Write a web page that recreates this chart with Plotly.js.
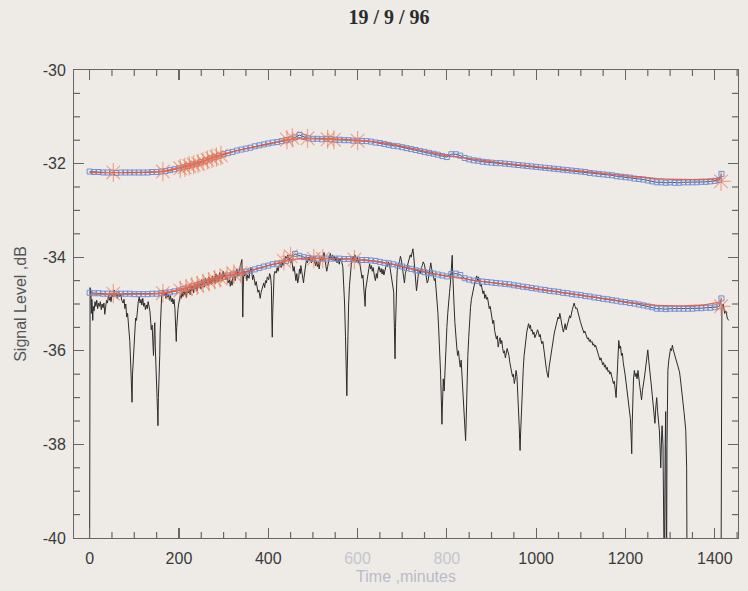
<!DOCTYPE html>
<html>
<head>
<meta charset="utf-8">
<script src="https://cdn.plot.ly/plotly-3.0.1.min.js"></script>
<style>
  html, body { margin: 0; padding: 0; background: #eeebe7; }
  #chart { width: 748px; height: 591px; }
</style>
</head>
<body>
<div id="chart"></div>
<script>
// ---------------- DATA ----------------
const chartTitle = "19 / 9 / 96";
const xTitle = "Time ,minutes";
const yTitle = "Signal Level ,dB";

// sampled squares: start time and step (minutes)
const squareStartMin = 0;
const squareStepMin = 10;

// upper curve, blue squares (one per sample)
const upperSquares = [
  -32.17,-32.18,-32.18,-32.19,-32.19,-32.19,-32.20,-32.19,-32.19,-32.19,
  -32.19,-32.19,-32.19,-32.19,-32.18,-32.18,-32.17,-32.16,-32.14,-32.12,
  -32.10,-32.08,-32.05,-32.02,-32.00,-31.97,-31.93,-31.89,-31.86,-31.83,
  -31.80,-31.77,-31.75,-31.72,-31.70,-31.68,-31.66,-31.63,-31.61,-31.59,
  -31.57,-31.55,-31.54,-31.52,-31.50,-31.48,-31.44,-31.39,-31.43,-31.46,
  -31.47,-31.47,-31.48,-31.47,-31.48,-31.49,-31.49,-31.50,-31.50,-31.51,
  -31.51,-31.52,-31.52,-31.53,-31.55,-31.56,-31.58,-31.60,-31.62,-31.63,
  -31.65,-31.67,-31.69,-31.71,-31.73,-31.75,-31.77,-31.79,-31.81,-31.84,
  -31.86,-31.80,-31.80,-31.83,-31.88,-31.91,-31.93,-31.94,-31.96,-31.97,
  -31.98,-31.99,-31.99,-32.00,-32.01,-32.02,-32.03,-32.04,-32.05,-32.06,
  -32.07,-32.08,-32.09,-32.10,-32.11,-32.12,-32.13,-32.14,-32.15,-32.16,
  -32.17,-32.18,-32.20,-32.21,-32.22,-32.23,-32.24,-32.25,-32.27,-32.28,
  -32.29,-32.30,-32.32,-32.33,-32.34,-32.36,-32.38,-32.40,-32.40,-32.41,
  -32.40,-32.41,-32.41,-32.40,-32.40,-32.40,-32.40,-32.39,-32.39,-32.38,
  -32.37,-32.35
];
// lower curve, blue squares
const lowerSquares = [
  -34.76,-34.77,-34.77,-34.78,-34.78,-34.78,-34.79,-34.78,-34.78,-34.78,
  -34.79,-34.79,-34.79,-34.79,-34.78,-34.78,-34.77,-34.76,-34.75,-34.73,
  -34.71,-34.68,-34.65,-34.62,-34.60,-34.57,-34.54,-34.51,-34.48,-34.45,
  -34.42,-34.39,-34.37,-34.35,-34.33,-34.31,-34.29,-34.26,-34.23,-34.20,
  -34.18,-34.15,-34.14,-34.12,-34.08,-34.02,-33.93,-33.97,-34.00,-34.02,
  -34.03,-34.03,-34.03,-34.03,-34.03,-34.03,-34.03,-34.04,-34.04,-34.05,
  -34.05,-34.06,-34.06,-34.07,-34.08,-34.10,-34.12,-34.13,-34.15,-34.18,
  -34.20,-34.23,-34.25,-34.28,-34.30,-34.32,-34.34,-34.35,-34.37,-34.39,
  -34.41,-34.36,-34.35,-34.38,-34.45,-34.48,-34.50,-34.51,-34.52,-34.53,
  -34.54,-34.55,-34.56,-34.57,-34.58,-34.60,-34.61,-34.63,-34.64,-34.66,
  -34.67,-34.69,-34.70,-34.72,-34.73,-34.74,-34.76,-34.77,-34.79,-34.80,
  -34.81,-34.83,-34.84,-34.86,-34.87,-34.89,-34.90,-34.92,-34.93,-34.95,
  -34.96,-34.98,-34.99,-35.01,-35.03,-35.05,-35.07,-35.10,-35.10,-35.11,
  -35.10,-35.10,-35.10,-35.10,-35.10,-35.10,-35.09,-35.09,-35.08,-35.08,
  -35.07,-35.05
];
// last, offset square at the end of each curve
const endSquareX = [1415];
const endSquareUpper = [-32.22];
const endSquareLower = [-34.88];

// smooth fitted (red) curves
const fitX = [0,100,160,200,250,300,355,405,455,505,560,610,660,710,760,810,865,915,965,1015,1070,1120,1170,1220,1270,1320,1375,1415];
const fitUpper = [-32.19,-32.19,-32.17,-32.10,-31.96,-31.80,-31.67,-31.57,-31.48,-31.46,-31.48,-31.51,-31.56,-31.65,-31.75,-31.84,-31.91,-31.98,-32.03,-32.08,-32.13,-32.18,-32.23,-32.28,-32.32,-32.34,-32.34,-32.32];
const fitLower = [-34.79,-34.79,-34.77,-34.70,-34.56,-34.42,-34.30,-34.17,-34.05,-34.02,-34.03,-34.06,-34.12,-34.22,-34.33,-34.42,-34.50,-34.56,-34.63,-34.70,-34.77,-34.84,-34.91,-34.98,-35.03,-35.04,-35.02,-34.95];

// asterisk markers
const starUpperX = [53,164,203,213,223,233,243,254,264,274,284,294,442,454,488,533,547,600,1414];
const starUpperY = [-32.19,-32.17,-32.10,-32.08,-32.05,-32.02,-32.00,-31.96,-31.92,-31.89,-31.86,-31.83,-31.49,-31.45,-31.46,-31.48,-31.49,-31.51,-32.38];
const starLowerX = [53,164,203,216,229,241,254,267,280,292,308,323,338,435,450,502,522,593,1414];
const starLowerY = [-34.78,-34.77,-34.71,-34.67,-34.63,-34.60,-34.56,-34.52,-34.48,-34.44,-34.40,-34.36,-34.34,-34.08,-33.98,-34.03,-34.03,-34.05,-35.05];

// raw received signal (black trace): [minutes, dB]
const signal = [
  [0,-40.5],[1,-34.65],[3,-34.8],[4,-35.2],[5,-34.9],[7,-35.35],[8,-35.05],[10,-35.15],[12,-34.95],[14,-35.05],
  [16,-34.92],[18,-35.1],[20,-34.98],[22,-35.05],[24,-34.95],[26,-35.12],[28,-35.0],[30,-35.08],[32,-34.98],[34,-35.22],
  [36,-35.05],[38,-34.92],[40,-34.98],[42,-34.82],[44,-34.92],[46,-34.85],[48,-34.95],[50,-34.78],[52,-34.85],[55,-34.7],
  [57,-34.82],[60,-34.76],[62,-34.88],[65,-34.72],[67,-34.85],[70,-34.8],[72,-34.92],[75,-34.98],[77,-34.9],[79,-35.1],
  [81,-35.0],[83,-35.28],[85,-35.2],[87,-35.45],[89,-35.6],[90,-35.8],[92,-36.3],[93,-36.7],[94,-36.6],[95,-37.1],
  [96,-36.5],[97,-36.3],[98,-36.0],[100,-35.9],[101,-35.6],[103,-35.3],[105,-35.35],[107,-35.1],[109,-34.95],[111,-34.85],
  [113,-34.98],[115,-34.9],[117,-35.02],[119,-34.88],[121,-35.05],[123,-34.98],[125,-35.12],[127,-35.02],[129,-35.1],[131,-34.95],
  [133,-35.08],[135,-35.15],[137,-35.4],[138,-35.55],[140,-35.45],[141,-35.8],[142,-36.0],[143,-36.1],[145,-35.5],[146,-35.4],
  [147,-35.9],[149,-36.3],[150,-36.6],[151,-37.0],[152,-37.3],[153,-37.6],[154,-37.0],[155,-36.8],[156,-36.3],[157,-36.1],
  [158,-35.6],[159,-35.25],[161,-34.88],[163,-34.75],[165,-34.7],[167,-34.82],[169,-34.76],[171,-34.88],[173,-34.74],[175,-34.85],
  [177,-34.8],[179,-34.92],[181,-34.82],[183,-34.95],[185,-34.88],[187,-35.0],[189,-34.9],[191,-35.1],[192,-35.35],[193,-35.6],
  [194,-35.8],[195,-35.5],[196,-35.25],[198,-35.1],[199,-35.02],[201,-34.9],[203,-34.82],[205,-34.88],[207,-34.76],[209,-34.84],
  [211,-34.7],[213,-34.8],[215,-34.74],[217,-34.86],[219,-34.66],[221,-34.76],[223,-34.68],[225,-34.8],[227,-34.6],[229,-34.72],
  [231,-34.64],[233,-34.76],[235,-34.56],[237,-34.68],[239,-34.6],[241,-34.72],[243,-34.52],[245,-34.64],[247,-34.56],[249,-34.68],
  [251,-34.48],[253,-34.6],[255,-34.52],[257,-34.64],[259,-34.45],[261,-34.56],[263,-34.48],[265,-34.6],[267,-34.42],[269,-34.55],
  [271,-34.46],[273,-34.58],[275,-34.4],[277,-34.52],[279,-34.44],[281,-34.56],[283,-34.36],[285,-34.5],[287,-34.4],[289,-34.52],
  [291,-34.33],[293,-34.46],[295,-34.38],[297,-34.5],[299,-34.3],[301,-34.42],[303,-34.36],[305,-34.48],[308,-34.42],[310,-34.55],
  [313,-34.48],[315,-34.62],[317,-34.5],[319,-34.6],[321,-34.42],[324,-34.38],[326,-34.5],[328,-34.3],[330,-34.25],[332,-34.4],
  [335,-34.32],[337,-34.2],[339,-34.12],[341,-34.05],[342,-34.6],[343,-35.28],[344,-34.7],[345,-34.28],[347,-34.4],[349,-34.3],
  [350,-34.35],[352,-34.5],[354,-34.38],[357,-34.45],[359,-34.3],[361,-34.22],[363,-34.3],[365,-34.48],[367,-34.38],[369,-34.5],
  [371,-34.6],[373,-34.52],[375,-34.62],[377,-34.75],[379,-34.7],[382,-34.88],[384,-34.75],[386,-34.68],[388,-34.6],[390,-34.55],
  [392,-34.65],[394,-34.5],[396,-34.55],[398,-34.42],[401,-34.48],[403,-34.35],[405,-34.4],[407,-34.6],[408,-35.3],[409,-35.71],
  [410,-35.2],[411,-34.6],[413,-34.38],[415,-34.3],[418,-34.34],[420,-34.22],[422,-34.3],[424,-34.2],[427,-34.15],[429,-34.22],
  [431,-34.1],[433,-34.18],[435,-34.05],[437,-34.1],[439,-33.98],[442,-34.02],[444,-33.95],[446,-34.08],[448,-34.02],[450,-34.12],
  [452,-34.05],[454,-34.15],[456,-34.3],[458,-34.2],[460,-34.4],[462,-34.5],[464,-34.35],[466,-34.55],[468,-34.45],[470,-34.25],
  [472,-34.35],[473,-34.18],[475,-34.3],[477,-34.4],[479,-34.55],[480,-34.45],[482,-34.25],[484,-34.15],[486,-34.05],[488,-34.12],
  [490,-34.0],[492,-34.08],[494,-33.98],[497,-34.12],[499,-34.05],[502,-33.98],[504,-34.1],[506,-34.18],[508,-34.08],[510,-34.2],
  [512,-34.1],[514,-34.25],[516,-34.1],[519,-34.0],[521,-34.08],[523,-33.95],[525,-33.9],[527,-34.05],[529,-34.15],[531,-34.3],
  [533,-34.2],[535,-34.08],[537,-33.95],[539,-33.92],[541,-34.05],[544,-33.95],[546,-34.06],[548,-33.98],[550,-34.08],[552,-34.0],
  [554,-34.12],[557,-34.05],[559,-34.15],[561,-34.02],[563,-34.08],[565,-34.12],[567,-34.2],[569,-34.5],[571,-35.0],[573,-35.7],
  [575,-36.3],[576,-36.96],[577,-36.4],[578,-35.6],[580,-35.0],[582,-34.6],[584,-34.3],[586,-34.15],[588,-34.05],[590,-33.98],
  [592,-34.08],[594,-33.95],[596,-34.02],[598,-34.1],[600,-34.0],[602,-34.12],[604,-34.06],[606,-34.2],[608,-34.3],[610,-34.45],
  [612,-34.38],[614,-34.6],[616,-35.0],[617,-35.05],[618,-34.7],[620,-34.55],[622,-34.45],[624,-34.25],[627,-34.14],[629,-34.25],
  [631,-34.18],[633,-34.3],[635,-34.22],[638,-34.42],[640,-34.5],[642,-34.35],[644,-34.45],[646,-34.28],[648,-34.2],[651,-34.32],
  [653,-34.24],[655,-34.36],[657,-34.26],[659,-34.38],[661,-34.3],[663,-34.22],[665,-34.14],[667,-34.2],[669,-34.1],[672,-34.18],
  [674,-34.3],[677,-34.45],[679,-34.6],[681,-34.75],[682,-35.3],[683,-35.8],[684,-36.17],[685,-35.5],[686,-34.9],[688,-34.45],
  [689,-34.28],[691,-34.15],[694,-34.1],[696,-33.98],[698,-34.05],[700,-34.2],[702,-34.3],[704,-34.45],[705,-34.55],[707,-34.35],
  [709,-34.28],[711,-34.2],[713,-34.12],[715,-34.05],[718,-33.95],[720,-34.0],[722,-33.88],[724,-33.82],[726,-34.0],[728,-34.2],
  [730,-34.45],[732,-34.72],[734,-34.55],[736,-34.38],[739,-34.28],[741,-34.35],[743,-34.22],[745,-34.18],[747,-34.1],[750,-34.16],
  [752,-34.3],[754,-34.42],[756,-34.55],[758,-34.5],[760,-34.35],[762,-34.2],[764,-34.12],[766,-34.25],[768,-34.32],[770,-34.38],
  [772,-34.5],[774,-34.45],[776,-34.65],[778,-34.9],[780,-35.2],[782,-35.6],[784,-35.92],[786,-36.5],[788,-37.2],[789,-37.57],
  [790,-37.2],[792,-36.6],[794,-36.86],[796,-36.3],[798,-35.8],[800,-35.5],[802,-35.2],[804,-34.9],[806,-34.75],[808,-34.55],
  [810,-34.3],[811,-34.05],[812,-33.96],[813,-34.3],[814,-34.7],[816,-35.0],[818,-35.4],[820,-35.78],[822,-35.9],[824,-36.1],
  [826,-36.0],[828,-36.2],[830,-36.35],[832,-36.2],[834,-36.55],[836,-36.78],[838,-37.1],[840,-37.64],[842,-37.92],[843,-37.6],
  [844,-37.0],[845,-36.6],[847,-36.1],[849,-35.71],[851,-35.3],[853,-35.07],[855,-34.9],[857,-34.78],[859,-34.68],[861,-34.6],
  [863,-34.52],[865,-34.45],[867,-34.4],[869,-34.5],[871,-34.42],[873,-34.55],[875,-34.62],[877,-34.58],[879,-34.7],[881,-34.78],
  [883,-34.72],[885,-34.88],[887,-34.8],[889,-34.9],[891,-34.86],[893,-34.98],[895,-35.1],[897,-35.05],[899,-35.25],[901,-35.3],
  [903,-35.42],[905,-35.35],[907,-35.57],[909,-35.65],[911,-35.75],[913,-35.68],[915,-35.92],[917,-35.8],[919,-35.72],[921,-35.85],
  [923,-35.78],[925,-35.95],[927,-36.05],[929,-36.0],[931,-36.15],[933,-36.05],[935,-35.95],[937,-36.02],[939,-36.1],[941,-36.25],
  [943,-36.35],[945,-36.45],[947,-36.55],[949,-36.5],[951,-36.7],[953,-36.6],[955,-36.42],[957,-36.55],[959,-36.9],[961,-37.3],
  [962,-37.6],[963,-37.9],[964,-38.13],[965,-37.8],[967,-37.2],[969,-36.7],[971,-36.4],[973,-36.1],[975,-35.9],[977,-35.75],
  [979,-35.6],[981,-35.5],[983,-35.42],[985,-35.52],[987,-35.45],[989,-35.58],[991,-35.55],[993,-35.65],[995,-35.6],[997,-35.72],
  [999,-35.68],[1001,-35.62],[1003,-35.55],[1005,-35.6],[1007,-35.7],[1009,-35.65],[1011,-35.78],[1013,-35.85],[1015,-35.8],[1017,-35.98],
  [1019,-36.1],[1021,-36.2],[1023,-36.4],[1025,-36.5],[1027,-36.57],[1029,-36.35],[1031,-36.2],[1033,-36.05],[1035,-35.95],[1037,-35.85],
  [1039,-35.72],[1041,-35.6],[1043,-35.5],[1045,-35.4],[1047,-35.35],[1049,-35.28],[1051,-35.32],[1053,-35.2],[1055,-35.3],[1057,-35.45],
  [1059,-35.52],[1061,-35.6],[1063,-35.5],[1065,-35.42],[1067,-35.55],[1069,-35.48],[1071,-35.4],[1073,-35.32],[1075,-35.25],[1077,-35.3],
  [1079,-35.18],[1081,-35.12],[1083,-35.05],[1085,-34.98],[1087,-35.05],[1089,-35.1],[1091,-35.08],[1093,-35.18],[1095,-35.25],[1097,-35.3],
  [1099,-35.38],[1101,-35.45],[1103,-35.5],[1105,-35.55],[1107,-35.62],[1109,-35.58],[1111,-35.65],[1113,-35.7],[1115,-35.75],[1117,-35.72],
  [1119,-35.8],[1121,-35.76],[1123,-35.82],[1125,-35.8],[1127,-35.88],[1129,-35.85],[1131,-35.92],[1133,-35.88],[1135,-35.95],[1137,-36.0],
  [1139,-36.05],[1141,-36.1],[1143,-36.2],[1145,-36.15],[1147,-36.25],[1149,-36.3],[1151,-36.25],[1153,-36.35],[1155,-36.3],[1157,-36.4],
  [1159,-36.35],[1161,-36.45],[1163,-36.42],[1165,-36.5],[1167,-36.45],[1169,-36.55],[1171,-36.6],[1173,-36.7],[1175,-36.65],[1177,-36.85],
  [1179,-37.0],[1181,-36.6],[1183,-36.2],[1185,-35.78],[1187,-35.95],[1189,-35.9],[1191,-36.1],[1193,-36.05],[1195,-36.25],[1197,-36.35],
  [1199,-36.5],[1201,-36.65],[1203,-36.8],[1205,-37.0],[1207,-37.15],[1209,-37.25],[1211,-37.45],[1213,-37.9],[1214,-38.2],[1215,-37.6],
  [1216,-37.0],[1218,-36.6],[1220,-36.42],[1222,-36.55],[1224,-36.48],[1226,-36.6],[1228,-36.42],[1230,-36.65],[1232,-36.75],[1234,-36.9],
  [1236,-37.05],[1238,-36.85],[1240,-36.75],[1242,-36.6],[1244,-36.45],[1246,-36.3],[1248,-36.1],[1250,-35.98],[1252,-36.2],[1254,-36.45],
  [1256,-36.6],[1258,-36.75],[1260,-36.95],[1262,-37.14],[1264,-37.4],[1266,-37.55],[1268,-37.2],[1270,-37.0],[1272,-37.3],[1274,-37.5],
  [1276,-37.71],[1278,-38.2],[1279,-38.5],[1281,-37.8],[1282,-37.6],[1284,-38.0],[1285,-38.5],[1286,-39.5],[1287,-41],[1289,-38.0],
  [1290,-37.3],[1291,-39.0],[1292,-41],[1293,-38.0],[1295,-36.42],[1297,-36.2],[1299,-36.05],[1301,-35.95],[1303,-36.0],[1305,-35.88],
  [1307,-35.98],[1309,-36.05],[1311,-36.1],[1313,-36.18],[1315,-36.25],[1317,-36.35],[1319,-36.38],[1321,-36.45],[1323,-36.6],[1325,-36.75],
  [1327,-36.95],[1329,-37.14],[1331,-37.3],[1333,-37.5],[1335,-37.7],[1337,-38.5],[1338,-41],[1345,-41],[1414,-41],[1416,-35.05],
  [1419,-35.0],[1422,-35.2],[1425,-35.15],[1428,-35.3],[1431,-35.35]
];

const xTickVals = [0,200,400,600,800,1000,1200,1400];
const xTickText = ["0","200","400",'<span style="color:#c4c6cc">600</span>','<span style="color:#c4c6cc">800</span>',"1000","1200","1400"];
const yTickVals = [-40,-38,-36,-34,-32,-30];
const yTickText = ["-40","-38","-36","-34","-32","-30"];
const xMinorTicks = [50,100,150,250,300,350,450,500,550,650,700,750,850,900,950,1050,1100,1150,1250,1300,1350,1450];
const yMinorTicks = [-39.5,-39,-38.5,-37.5,-37,-36.5,-35.5,-35,-34.5,-33.5,-33,-32.5,-31.5,-31,-30.5];
const xRange = [-35, 1452];
const yRange = [-40, -30];

// ---------------- BUILD ----------------
const squareX = upperSquares.map((_, i) => squareStartMin + i * squareStepMin);
const signalX = signal.map(p => p[0]);
const signalY = signal.map(p => p[1]);

const blue = '#6f8fd6';
const starColor = 'rgba(240,115,75,0.6)';
const fitColor = 'rgba(226,88,72,0.9)';
const frameColor = '#666';

const traces = [
  { x: signalX, y: signalY, mode: 'lines', line: { color: '#2b2b2b', width: 1 }, hoverinfo: 'skip' },
  { x: squareX.concat(endSquareX), y: lowerSquares.concat(endSquareLower), mode: 'lines+markers',
    line: { color: '#4b4f6a', width: 1 },
    marker: { symbol: 'square-open', size: 5, color: blue, line: { color: blue, width: 1 } } },
  { x: squareX.concat(endSquareX), y: upperSquares.concat(endSquareUpper), mode: 'lines+markers',
    line: { color: '#4b4f6a', width: 1 },
    marker: { symbol: 'square-open', size: 5, color: blue, line: { color: blue, width: 1 } } },
  { x: fitX, y: fitLower, mode: 'lines', line: { color: fitColor, width: 1.4, shape: 'spline' } },
  { x: fitX, y: fitUpper, mode: 'lines', line: { color: fitColor, width: 1.4, shape: 'spline' } },
  { x: starLowerX, y: starLowerY, mode: 'markers',
    marker: { symbol: 'asterisk-open', size: 16, color: starColor, line: { color: starColor, width: 1.2 } } },
  { x: starUpperX, y: starUpperY, mode: 'markers',
    marker: { symbol: 'asterisk-open', size: 16, color: starColor, line: { color: starColor, width: 1.2 } } }
];

// plot-area size in pixels (from margins) to express minor tick length in paper units
const W = 748, H = 591, M = { l: 74, r: 10, t: 70, b: 53 };
const plotW = W - M.l - M.r, plotH = H - M.t - M.b;
const minorLenPx = 6;
const fy = minorLenPx / plotH, fx = minorLenPx / plotW;
const tickLine = { color: frameColor, width: 1.2 };
const shapes = [];
xMinorTicks.forEach(v => {
  shapes.push({ type: 'line', layer: 'above', xref: 'x', yref: 'paper', x0: v, x1: v, y0: 0, y1: fy, line: tickLine });
  shapes.push({ type: 'line', layer: 'above', xref: 'x', yref: 'paper', x0: v, x1: v, y0: 1, y1: 1 - fy, line: tickLine });
});
yMinorTicks.forEach(v => {
  shapes.push({ type: 'line', layer: 'above', yref: 'y', xref: 'paper', y0: v, y1: v, x0: 0, x1: fx, line: tickLine });
  shapes.push({ type: 'line', layer: 'above', yref: 'y', xref: 'paper', y0: v, y1: v, x0: 1, x1: 1 - fx, line: tickLine });
});

const tickFont = { family: 'Liberation Sans, Arial, sans-serif', size: 16, color: '#3a3a3a' };
const axisCommon = {
  showline: true, linecolor: frameColor, linewidth: 1, mirror: 'ticks',
  ticks: 'inside', ticklen: 10, tickcolor: frameColor, tickwidth: 1.2,
  showgrid: false, zeroline: false, tickfont: tickFont
};

const layout = {
  width: W, height: H,
  paper_bgcolor: '#eeebe7', plot_bgcolor: '#eeebe7',
  margin: M,
  showlegend: false,
  shapes: shapes,
  title: { text: '<b>' + chartTitle + '</b>', xref: 'container', yref: 'container', x: 0.52, y: 0.971,
           xanchor: 'center', yanchor: 'middle',
           font: { family: 'Liberation Serif, Times New Roman, serif', size: 20, color: '#2b2b2b' } },
  xaxis: Object.assign({}, axisCommon, {
    range: xRange, tickmode: 'array', tickvals: xTickVals, ticktext: xTickText,
    ticklabelstandoff: 6,
    title: { text: xTitle, standoff: 4, font: { family: 'Liberation Sans, Arial, sans-serif', size: 16, color: '#b9bcc6' } }
  }),
  yaxis: Object.assign({}, axisCommon, {
    range: yRange, tickmode: 'array', tickvals: yTickVals, ticktext: yTickText,
    ticklabelstandoff: 4,
    title: { text: yTitle, standoff: 12, font: { family: 'Liberation Sans, Arial, sans-serif', size: 16, color: '#555' } }
  })
};

Plotly.newPlot('chart', traces, layout, { displayModeBar: false, staticPlot: true });
</script>
</body>
</html>
